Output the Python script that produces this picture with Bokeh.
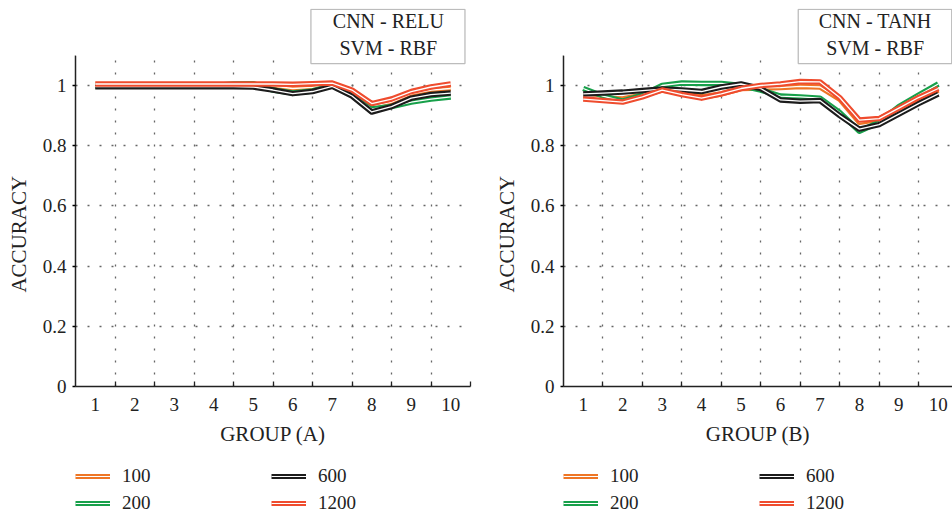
from bokeh.plotting import figure
from bokeh.layouts import row, column
from bokeh.models import (FixedTicker, NumeralTickFormatter, Legend, LegendItem, Label,
                          BoxAnnotation)
from bokeh.embed import file_html
from bokeh.resources import INLINE

# ---------------- data ----------------
x_pts = [1, 1.5, 2, 2.5, 3, 3.5, 4, 4.5, 5, 5.5, 6, 6.5, 7, 7.5, 8, 8.5, 9, 9.5, 10]
groups = list(range(1, 11))
series_names = ["100", "200", "600", "1200"]

# panel A : CNN - RELU / SVM - RBF
a_100 = [1.0, 1.0, 1.0, 1.0, 1.0, 1.0, 1.0, 1.0, 1.0, 0.998, 0.99, 0.994, 1.003, 0.975, 0.93, 0.945, 0.972, 0.985, 0.99]
a_200 = [0.999, 0.999, 0.999, 0.999, 0.999, 0.999, 1.0, 1.005, 1.006, 0.985, 0.975, 0.982, 1.0, 0.97, 0.922, 0.93, 0.945, 0.955, 0.962]
a_600 = [0.996, 0.996, 0.996, 0.996, 0.996, 0.996, 0.996, 0.996, 0.995, 0.985, 0.973, 0.98, 0.997, 0.965, 0.912, 0.93, 0.958, 0.97, 0.975]
a_1200 = [1.005, 1.005, 1.005, 1.005, 1.005, 1.005, 1.005, 1.005, 1.005, 1.005, 1.004, 1.006, 1.008, 0.985, 0.94, 0.955, 0.98, 0.995, 1.005]

# panel B : CNN - TANH / SVM - RBF
b_100 = [0.965, 0.958, 0.955, 0.968, 0.985, 0.975, 0.962, 0.972, 0.99, 0.992, 0.993, 0.997, 0.995, 0.955, 0.878, 0.888, 0.925, 0.955, 0.985]
b_200 = [0.99, 0.965, 0.948, 0.968, 1.0, 1.008, 1.007, 1.007, 1.0, 0.985, 0.965, 0.962, 0.958, 0.91, 0.848, 0.878, 0.93, 0.968, 1.005]
b_600 = [0.972, 0.975, 0.978, 0.983, 0.988, 0.985, 0.98, 0.995, 1.005, 0.99, 0.952, 0.948, 0.95, 0.9, 0.855, 0.87, 0.905, 0.94, 0.972]
b_1200 = [0.955, 0.95, 0.945, 0.962, 0.985, 0.97, 0.958, 0.972, 0.99, 1.0, 1.005, 1.013, 1.012, 0.96, 0.885, 0.89, 0.925, 0.96, 0.99]

y_ticks = [0, 0.2, 0.4, 0.6, 0.8, 1]
colors = ["#EE7625", "#17A04A", "#1C1C1C", "#EF4C2E"]

FONT = "Liberation Serif"
TXT = "#222222"
Y_TOP = 1.1              # top of the drawn axis
Y_VIEW = 378 / 301       # frame extends above the axis to hold the text box
# non-breaking padding keeps the rotated label centred on the drawn axis
Y_LABEL = "ACCURACY" + "\u00a0" * 14


def make_panel(series, title_lines, xlabel, frame_w, x_end, border_right,
               box_left, box_right, box_cx):
    p = figure(frame_width=frame_w, frame_height=378,
               x_range=(0.5, x_end), y_range=(0, Y_VIEW),
               output_backend="svg", toolbar_location=None,
               min_border_left=75, min_border_right=border_right,
               min_border_top=8, min_border_bottom=70)
    p.outline_line_color = None

    p.xgrid.ticker = FixedTicker(ticks=[g + 0.5 for g in groups])
    p.ygrid.ticker = FixedTicker(ticks=y_ticks)
    for g in (p.xgrid, p.ygrid):
        g.grid_line_color = "#666666"
        g.grid_line_dash = "2 10"
        g.grid_line_width = 1.3

    xa = p.xaxis[0]
    xa.ticker = FixedTicker(ticks=groups, minor_ticks=[g + 0.5 for g in groups])
    xa.major_tick_line_color = None
    xa.minor_tick_line_color = TXT
    xa.minor_tick_line_width = 1.3
    xa.minor_tick_in = 5
    xa.minor_tick_out = 0
    xa.axis_label = xlabel
    ya = p.yaxis[0]
    ya.ticker = FixedTicker(ticks=y_ticks)
    ya.formatter = NumeralTickFormatter(format="0.[0]")
    ya.bounds = (0, Y_TOP)
    ya.major_tick_in = 0
    ya.major_tick_out = 3
    ya.minor_tick_line_color = None
    ya.axis_label = Y_LABEL
    for ax in (xa, ya):
        ax.axis_line_color = TXT
        ax.axis_line_width = 1.5
        ax.major_tick_line_width = 1.3
        ax.major_label_text_font = FONT
        ax.major_label_text_font_size = "19px"
        ax.major_label_text_color = TXT
        ax.axis_label_text_font = FONT
        ax.axis_label_text_font_size = "21px"
        ax.axis_label_text_font_style = "normal"
        ax.axis_label_text_color = TXT
    xa.major_label_standoff = 5
    xa.axis_label_standoff = 8
    ya.major_label_standoff = 6
    ya.axis_label_standoff = 9

    for ys, c in zip(series, colors):
        p.line(x_pts, ys, line_color=c, line_width=5.5, line_join="round")
        p.line(x_pts, ys, line_color="white", line_width=1.3, line_join="round")

    # blank out the grid above the top of the axis
    p.add_layout(BoxAnnotation(bottom=Y_TOP, fill_color="white", fill_alpha=1,
                               line_color=None))
    # framed caption box
    p.add_layout(BoxAnnotation(left=box_left, right=box_right, bottom=1.073,
                               top=Y_VIEW - 0.003, fill_color="white", fill_alpha=1,
                               line_color=TXT, line_width=1.3))
    p.add_layout(Label(x=box_cx, y=1.1694, text=title_lines, text_align="center",
                       text_baseline="middle", text_font=FONT, text_font_size="20px",
                       text_color=TXT))
    return p


def make_legend(total_w, series):
    lf = figure(width=total_w, height=57, x_range=(-10, -9), y_range=(0, 1),
                output_backend="svg", toolbar_location=None,
                x_axis_location=None, y_axis_location=None,
                min_border_left=75, min_border_right=0,
                min_border_top=9, min_border_bottom=0)
    lf.outline_line_color = None
    lf.xgrid.visible = False
    lf.ygrid.visible = False
    items = {}
    for name, ys, c in zip(series_names, series, colors):
        r1 = lf.line(x_pts, ys, line_color=c, line_width=5)
        r2 = lf.line(x_pts, ys, line_color="white", line_width=1.2)
        items[name] = LegendItem(label=name, renderers=[r1, r2])
    ordered = [items["100"], items["600"], items["200"], items["1200"]]
    legend = Legend(items=ordered, orientation="horizontal", ncols=2,
                    location="top_left", border_line_color=None,
                    background_fill_alpha=0, glyph_width=35, glyph_height=10,
                    label_standoff=12, label_width=144, label_height=20,
                    spacing=5, padding=0, margin=0,
                    label_text_font=FONT, label_text_font_size="19px",
                    label_text_color=TXT)
    lf.add_layout(legend)
    return lf


ser_a = [a_100, a_200, a_600, a_1200]
ser_b = [b_100, b_200, b_600, b_1200]
pA = make_panel(ser_a, "CNN - RELU\nSVM - RBF", "GROUP (A)", 395, 10.5, 18,
                6.46, 10.36, 8.42)
pB = make_panel(ser_b, "CNN - TANH\nSVM - RBF", "GROUP (B)", 389, 10.36, 0,
                6.45, 10.34, 8.40)
lA = make_legend(488, ser_a)
lB = make_legend(464, ser_b)

layout = column(row(pA, pB), row(lA, lB))
open("out.html", "w").write(file_html(layout, INLINE))
